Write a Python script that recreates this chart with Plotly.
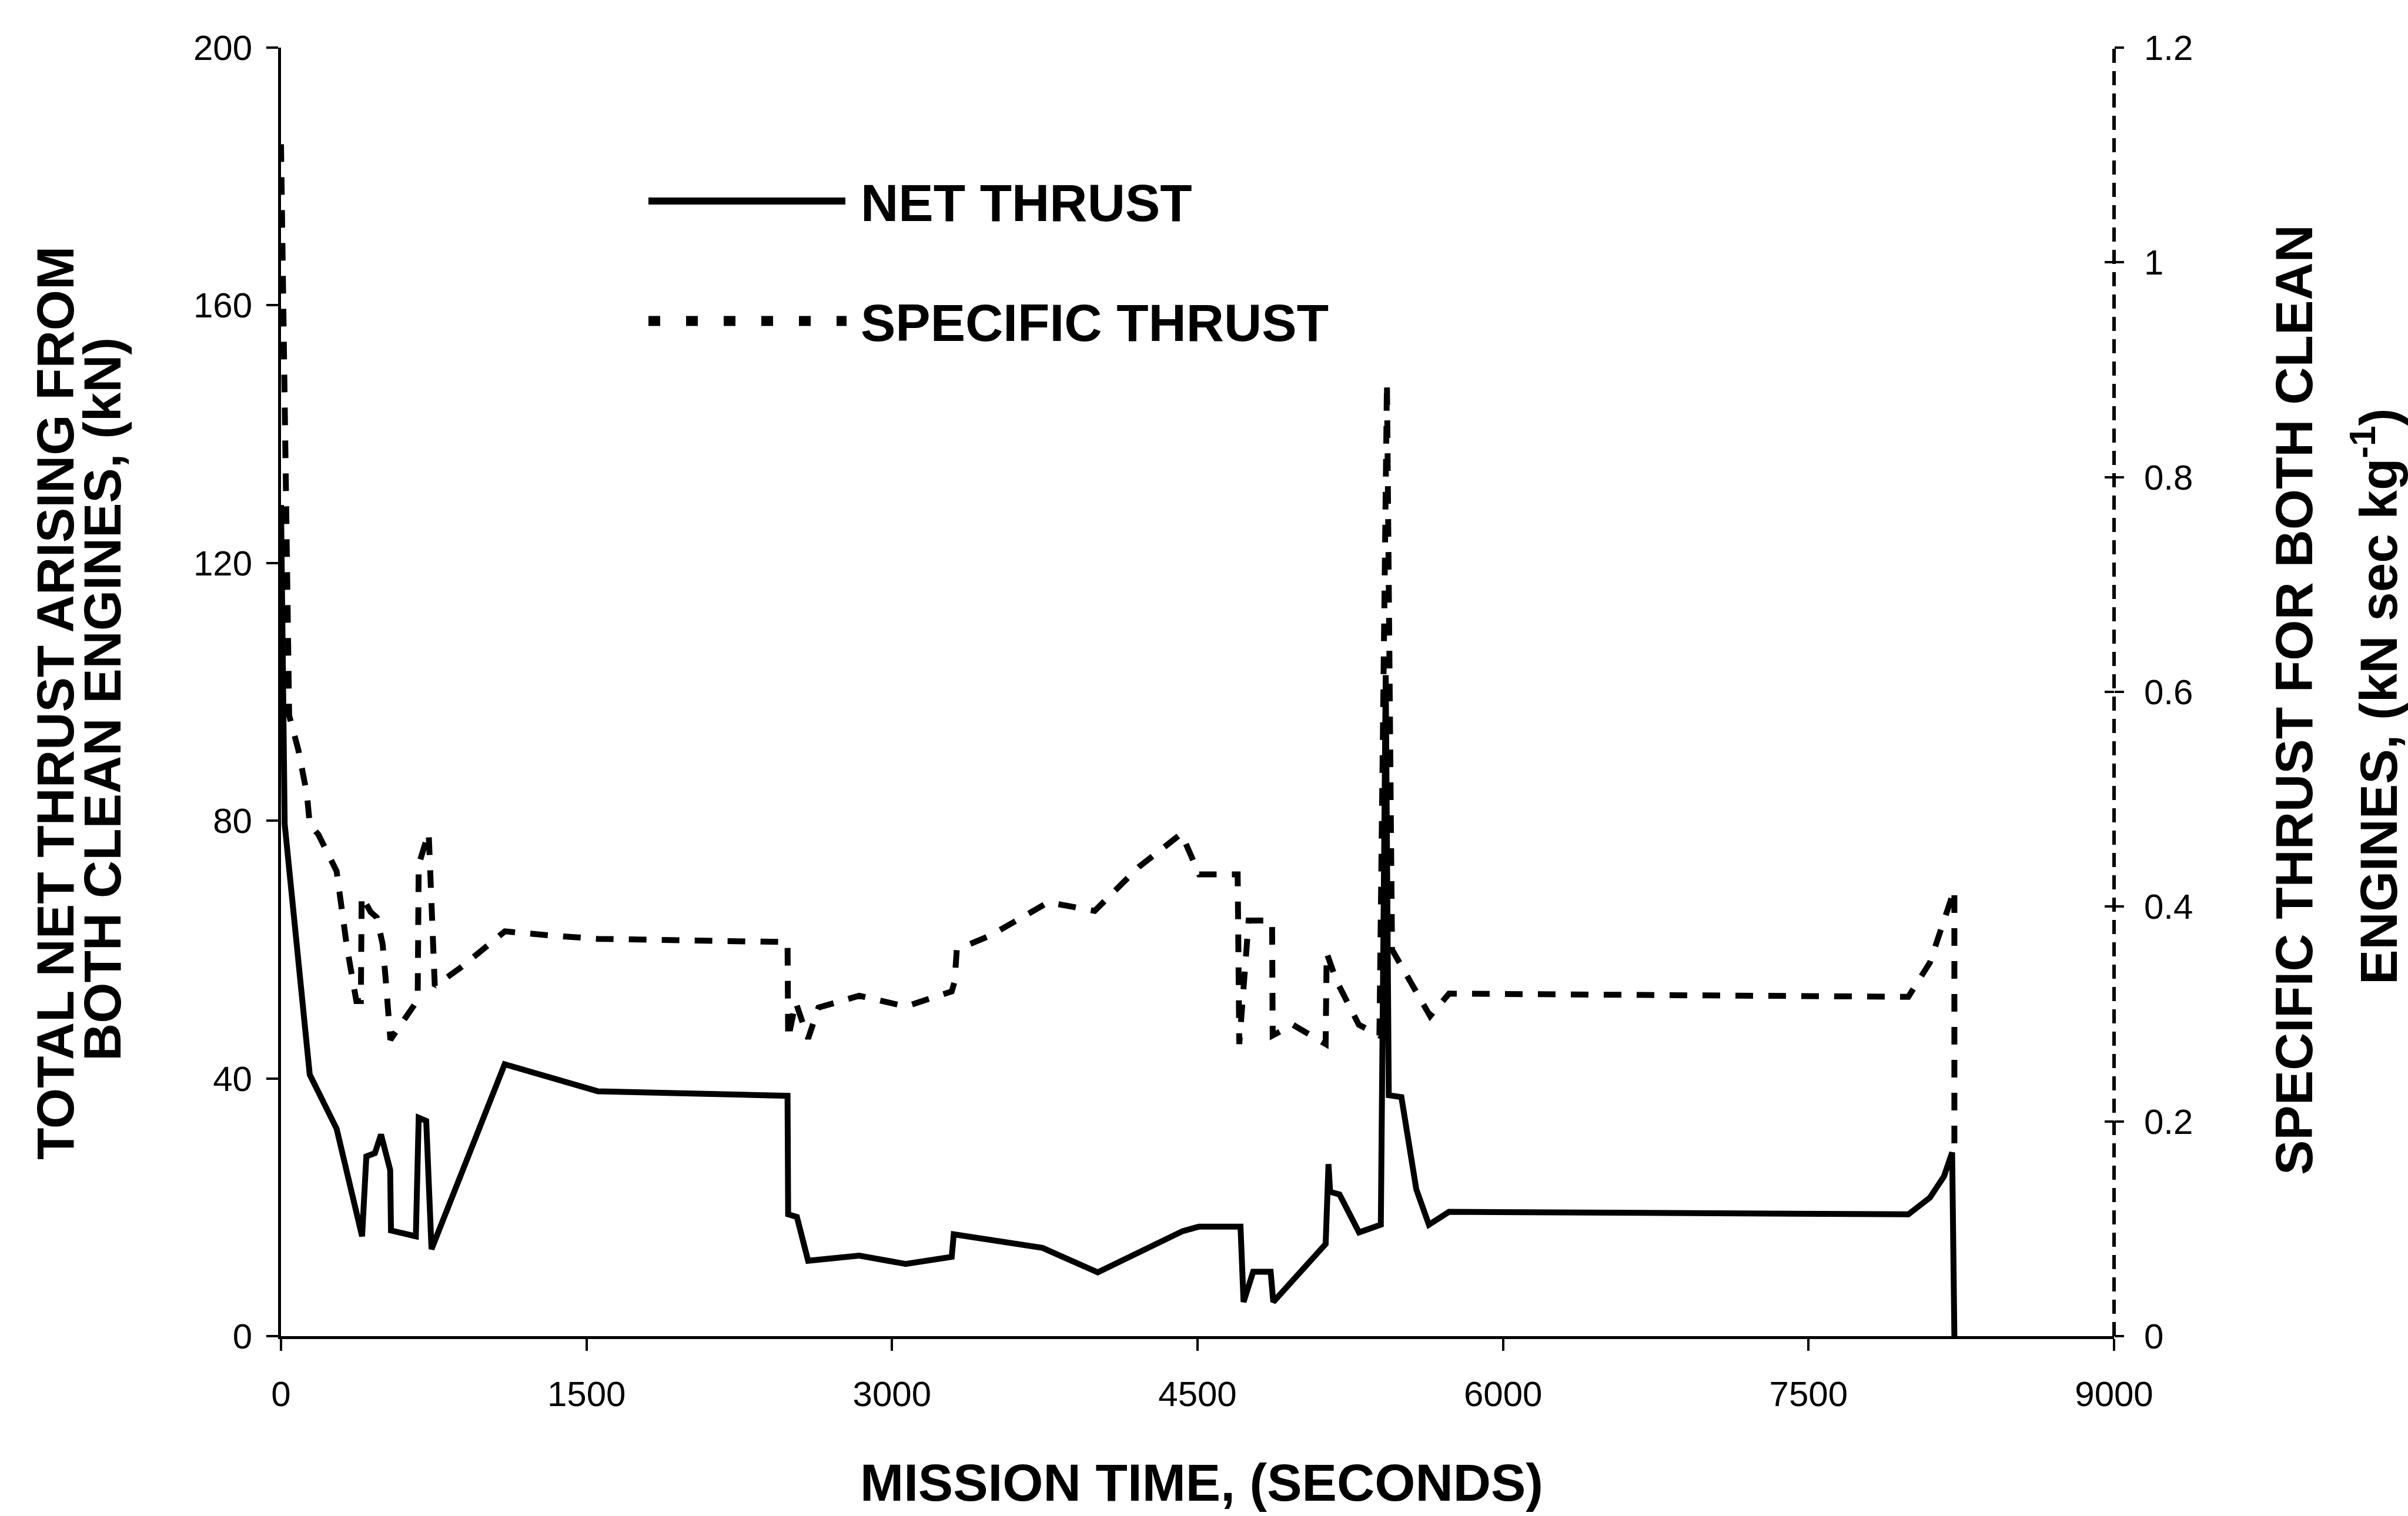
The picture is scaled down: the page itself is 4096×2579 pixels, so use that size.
import plotly.graph_objects as go

# ---------------- data ----------------
net_time = [0, 18, 141, 273, 398, 419, 461, 491, 536, 540, 662, 676, 713, 739,
            1098, 1556, 2487, 2490, 2533, 2588, 2839, 3067, 3293, 3303, 3739,
            4010, 4427, 4508, 4711, 4726, 4773, 4859, 4872, 5129, 5143, 5151,
            5197, 5293, 5400, 5424, 5439, 5501, 5574, 5636, 5735, 7990, 8096,
            8165, 8205, 8216]
net_thrust = [129, 79.5, 40.6, 32.2, 15.5, 27.9, 28.4, 31.3, 25.8, 16.4, 15.5,
              33.9, 33.4, 13.5, 42.2, 38.0, 37.3, 18.9, 18.5, 11.7, 12.5, 11.2,
              12.3, 15.8, 13.7, 9.9, 16.3, 17.0, 17.0, 5.3, 10.0, 10.0, 5.3,
              14.3, 26.7, 22.4, 22.0, 16.1, 17.3, 102.6, 37.4, 37.1, 22.8, 17.3,
              19.3, 18.9, 21.5, 24.8, 28.5, 0]

spec_time = [0, 40, 85, 127, 141, 184, 273, 324, 370, 392, 396, 440, 470, 499,
             515, 537, 671, 676, 725, 745, 755, 888, 1099, 1330, 1556, 2487,
             2490, 2527, 2588, 2639, 2839, 3067, 3293, 3307, 3318, 3482, 3767,
             3995, 4212, 4421, 4508, 4697, 4705, 4751, 4866, 4869, 4968, 5129,
             5134, 5182, 5292, 5393, 5430, 5455, 5588, 5642, 5735, 7990, 8096,
             8165, 8216, 8216]
spec_thrust = [1.11, 0.578, 0.546, 0.505, 0.477, 0.467, 0.433, 0.362, 0.312,
               0.312, 0.41, 0.395, 0.39, 0.365, 0.33, 0.276, 0.313, 0.439,
               0.469, 0.38, 0.326, 0.344, 0.377, 0.373, 0.37, 0.367, 0.277,
               0.311, 0.277, 0.306, 0.317, 0.307, 0.321, 0.33, 0.36, 0.373,
               0.404, 0.396, 0.437, 0.468, 0.43, 0.43, 0.272, 0.387, 0.387,
               0.28, 0.29, 0.272, 0.357, 0.331, 0.29, 0.28, 0.888, 0.36, 0.314,
               0.298, 0.319, 0.316, 0.348, 0.386, 0.416, 0.178]

x_ticks = [0, 1500, 3000, 4500, 6000, 7500, 9000]
y_ticks = [0, 40, 80, 120, 160, 200]
y2_ticks = [0, 0.2, 0.4, 0.6, 0.8, 1.0, 1.2]
y2_ticktext = ["0", "0.2", "0.4", "0.6", "0.8", "1", "1.2"]

# ---------------- layout geometry (pixels) ----------------
W, H = 4096, 2579
L, R, T, B = 478, 3596, 81, 2273


def px_x(p):
    return (p - L) / (R - L)


def px_y(p):
    return (B - p) / (B - T)


TICK_FONT = dict(family="Liberation Sans Narrow, Arial Narrow, Liberation Sans, sans-serif",
                 size=60, color="black")
TITLE_FONT = dict(family="Liberation Sans, Arial, sans-serif", size=89, color="black")

fig = go.Figure()
fig.add_trace(go.Scatter(x=net_time, y=net_thrust, mode="lines", name="NET THRUST",
                         line=dict(color="black", width=10), yaxis="y",
                         showlegend=False))
fig.add_trace(go.Scatter(x=spec_time, y=spec_thrust, mode="lines", name="SPECIFIC THRUST",
                         line=dict(color="black", width=10, dash="30px,26px"),
                         yaxis="y2", showlegend=False))
# invisible trace to carry the inner ticks of the right axis
fig.add_trace(go.Scatter(x=spec_time, y=spec_thrust, mode="lines", yaxis="y3",
                         line=dict(color="rgba(0,0,0,0)", width=1), hoverinfo="skip",
                         showlegend=False))

fig.update_layout(
    width=W, height=H,
    margin=dict(l=L, r=W - R, t=T, b=H - B, pad=0),
    paper_bgcolor="white", plot_bgcolor="white",
    showlegend=False,
    xaxis=dict(range=[0, 9000], tickvals=x_ticks, ticktext=[str(v) for v in x_ticks],
               ticks="outside", ticklen=20, tickwidth=4, tickcolor="black",
               showline=True, linewidth=5, linecolor="black", showgrid=False,
               zeroline=False, tickfont=TICK_FONT, ticklabelstandoff=22),
    yaxis=dict(range=[0, 200], tickvals=y_ticks, ticktext=[str(v) for v in y_ticks],
               ticks="outside", ticklen=20, tickwidth=4, tickcolor="black",
               showline=True, linewidth=5, linecolor="black", showgrid=False,
               zeroline=False, tickfont=TICK_FONT, ticklabelstandoff=12),
    yaxis2=dict(range=[0, 1.2], overlaying="y", side="right", tickvals=y2_ticks,
                ticktext=y2_ticktext, ticks="outside", ticklen=16, tickwidth=4,
                tickcolor="black", showline=False, showgrid=False, zeroline=False,
                tickfont=TICK_FONT, ticklabelstandoff=22),
    yaxis3=dict(range=[0, 1.2], overlaying="y", side="right", tickvals=y2_ticks,
                ticks="inside", ticklen=16, tickwidth=4, tickcolor="black",
                showticklabels=False, showline=False, showgrid=False, zeroline=False),
)

shapes = []
# dashed right-hand axis line
shapes.append(dict(type="line", xref="paper", yref="paper", x0=1, x1=1, y0=0, y1=1,
                   line=dict(color="black", width=6, dash="24px,14px")))
# legend samples
shapes.append(dict(type="line", xref="paper", yref="paper",
                   x0=px_x(1103), x1=px_x(1438), y0=px_y(342), y1=px_y(342),
                   line=dict(color="black", width=12)))
shapes.append(dict(type="line", xref="paper", yref="paper",
                   x0=px_x(1103), x1=px_x(1440), y0=px_y(546), y1=px_y(546),
                   line=dict(color="black", width=17, dash="20px,44px")))
fig.update_layout(shapes=shapes)

ann = []
ann.append(dict(text="<b>NET THRUST</b>", xref="paper", yref="paper",
                x=px_x(1462), y=px_y(345), xanchor="left", yanchor="middle",
                showarrow=False, font=TITLE_FONT))
ann.append(dict(text="<b>SPECIFIC THRUST</b>", xref="paper", yref="paper",
                x=px_x(1462), y=px_y(549), xanchor="left", yanchor="middle",
                showarrow=False, font=TITLE_FONT))
# x title
ann.append(dict(text="<b>MISSION TIME, (SECONDS)</b>", xref="paper", yref="paper",
                x=px_x(2044), y=px_y(2522), xanchor="center", yanchor="middle",
                showarrow=False, font=TITLE_FONT))
# left y title (two lines)
ann.append(dict(text="<b>TOTAL NET THRUST ARISING FROM</b>", xref="paper", yref="paper",
                x=px_x(94), y=px_y(1196), xanchor="center", yanchor="middle",
                textangle=-90, showarrow=False, font=TITLE_FONT))
ann.append(dict(text="<b>BOTH CLEAN ENGINES, (kN)</b>", xref="paper", yref="paper",
                x=px_x(174), y=px_y(1190), xanchor="center", yanchor="middle",
                textangle=-90, showarrow=False, font=TITLE_FONT))
# right y title (two lines)
ann.append(dict(text="<b>SPECIFIC THRUST FOR BOTH CLEAN</b>", xref="paper", yref="paper",
                x=px_x(3902), y=px_y(1191), xanchor="center", yanchor="middle",
                textangle=-90, showarrow=False, font=TITLE_FONT))
ann.append(dict(text="<b>ENGINES, (kN sec kg<sup>-1</sup>)</b>", xref="paper", yref="paper",
                x=px_x(4040), y=px_y(1185), xanchor="center", yanchor="middle",
                textangle=-90, showarrow=False, font=TITLE_FONT))
fig.update_layout(annotations=ann)

fig.write_html("out.html")
